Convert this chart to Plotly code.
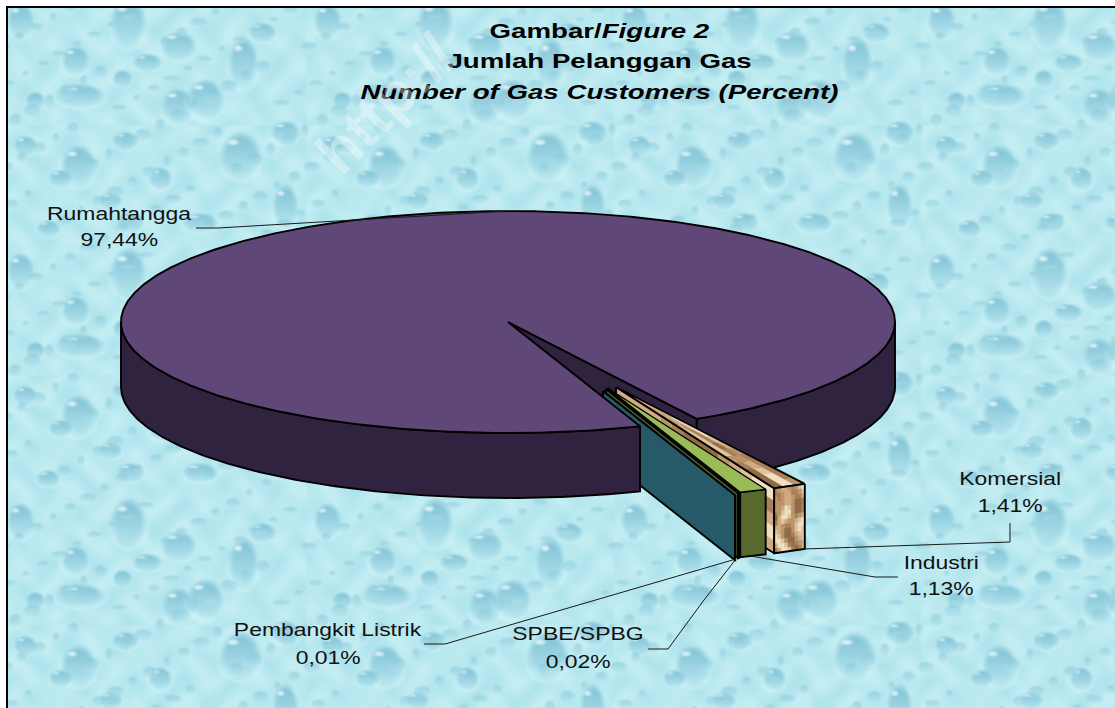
import base64, struct, zlib
import numpy as np
import plotly.graph_objects as go

# ---- data
categories = ["Komersial", "Industri", "SPBE/SPBG", "Pembangkit Listrik", "Rumahtangga"]
values = [1.41, 1.13, 0.02, 0.01, 97.44]

title_lines = ["<b>Gambar/<i>Figure 2</i></b>", "<b>Jumlah Pelanggan Gas</b>",
               "<b><i>Number of Gas Customers (Percent)</i></b>"]

# ---- pie geometry (style)
W, H = 1115, 708
CX, CY, RX, RY, DEPTH = 508, 322, 387, 111, 65
START = 150.8
PULL = [(108, 65), (99.5, 66), (98, 67), (95, 69), (0, 0)]
LW = 1.9


def texture():
    """Procedural water-drop backdrop, rendered to a PNG data URI."""
    yy, xx = np.mgrid[0:H, 0:W].astype(float)
    TX, TY = 307.0, 250.0
    u, v = xx % TX, (yy - 125) % TY
    base = (0.5 + 0.25 * np.sin(u / 7.3 + np.sin(v / 11.0) * 2) + 0.25 * np.sin(v / 6.1 + np.sin(u / 9.0) * 2))
    img = np.zeros((H, W, 3))
    light, dark = np.array([196, 238, 243.0]), np.array([176, 228, 237.0])
    for c in range(3):
        img[..., c] = dark[c] + (light[c] - dark[c]) * base
    big = [(128, 22, 18, 25), (178, 45, 18, 15), (243, 62, 15, 26), (75, 60, 14, 15), (147, 62, 15, 9),
           (80, 95, 25, 12), (178, 105, 17, 18), (205, 98, 19, 20), (122, 78, 10, 9), (20, 20, 14, 18),
           (262, 32, 14, 10), (78, 165, 18, 21), (240, 155, 21, 24), (125, 140, 14, 9), (285, 132, 15, 12),
           (25, 145, 12, 10), (60, 178, 12, 9), (160, 178, 12, 12), (48, 228, 12, 9), (200, 222, 18, 10),
           (285, 205, 13, 22), (130, 222, 14, 10), (110, 200, 12, 9), (35, 100, 10, 9)]
    golden = 0.6180339887
    small = [((i * golden) % 1 * TX, (i * 0.7548776662) % 1 * TY, 4 + (i % 5) * 1.4, 3.5 + (i % 4) * 1.2)
             for i in range(1, 90)]
    for (dx, dy, ax, ay) in big + small:
        strength = 1.0 if ax >= 10 else 0.55
        px = ((xx - dx + TX / 2) % TX) - TX / 2
        py = ((yy - dy + TY / 2) % TY) - TY / 2
        d = np.sqrt((px / ax) ** 2 + (py / ay) ** 2)
        m = np.clip((1 - d) * 3, 0, 1) * strength
        grad = np.clip(0.55 - py / (2 * ay), 0, 1)
        col = np.stack([186 - 58 * grad, 232 - 38 * grad, 240 - 26 * grad], -1)
        img = img * (1 - m[..., None]) + col * m[..., None]
        rim = np.clip(1 - np.abs(d - 1.08) * 6, 0, 1) * np.clip(py / ay + 0.3, 0, 1) * 0.45 * strength
        img = img + (np.array([214, 244, 247.0]) - img) * rim[..., None]
        hl = np.sqrt(((px + ax * .35) / (ax * .32)) ** 2 + ((py + ay * .55) / (ay * .14)) ** 2)
        hm = np.clip((1 - hl) * 2, 0, 1) * (ax > 11) * 0.75
        img = img + (np.array([238, 251, 252.0]) - img) * hm[..., None]
    # softening, like the resampled original
    for _ in range(2):
        img = (np.roll(img, 1, 0) + np.roll(img, -1, 0) + np.roll(img, 1, 1) + np.roll(img, -1, 1) + 2 * img) / 6
    k = img.clip(0, 255).astype(np.uint8)
    k[:7, :] = 255
    k[:, :6] = 255
    raw = b"".join(b"\x00" + k[r].tobytes() for r in range(H))

    def chunk(tag, data):
        return struct.pack(">I", len(data)) + tag + data + struct.pack(">I", zlib.crc32(tag + data))

    png = (b"\x89PNG\r\n\x1a\n" + chunk(b"IHDR", struct.pack(">IIBBBBB", W, H, 8, 2, 0, 0, 0))
           + chunk(b"IDAT", zlib.compress(raw, 9)) + chunk(b"IEND", b""))
    return "data:image/png;base64," + base64.b64encode(png).decode()


def ell(t, ox=0.0, oy=0.0, down=0.0, r=1.0):
    a = np.radians(t)
    return CX + ox + RX * r * np.sin(a), CY + oy + down - RY * r * np.cos(a)


def arc(t0, t1, ox=0.0, oy=0.0, down=0.0, n=None):
    n = n or max(2, int(abs(t1 - t0) * 2) + 2)
    ts = np.linspace(t0, t1, n)
    return ell(ts, ox, oy, down)


fig = go.Figure()


def poly(xs, ys, fill, lw=LW):
    fig.add_trace(go.Scatter(x=list(xs), y=list(ys), mode="lines", fill="toself", fillcolor=fill,
                             line=dict(color="#000000", width=lw), hoverinfo="skip", showlegend=False))


def outline_xy(xs, ys):
    fig.add_trace(go.Scatter(x=list(xs), y=list(ys), mode="lines", line=dict(color="#000", width=LW),
                             hoverinfo="skip", showlegend=False))


MOTTLE = ["#f0dfc2", "#e0c49d", "#cfac83", "#bb946a", "#a87f56", "#936b45"]


def mottle_color(a, b, seed):
    s = (0.5 + 0.3 * np.sin(a * 9 + seed + 1.7 * np.sin(b * 7)) + 0.2 * np.sin(b * 11 + seed * 2 + a * 5))
    return MOTTLE[min(5, max(0, int(s * 6)))]


def mottle(corner, nu, nv, seed):
    """Fill a face with small soft patches; corner(u, v) -> (x, y)."""
    groups = {}
    for a in range(nu):
        for b in range(nv):
            ua, ub, va, vb = a / nu, (a + 1) / nu, b / nv, (b + 1) / nv
            col = mottle_color(ua, va, seed)
            pts = [corner(ua, va), corner(ub, va), corner(ub, vb), corner(ua, vb)]
            groups.setdefault(col, []).append(pts)
    for col, items in groups.items():
        xs, ys = [], []
        for pts in items:
            xs += [float(p[0]) for p in pts] + [None]
            ys += [float(p[1]) for p in pts] + [None]
        fig.add_trace(go.Scatter(x=xs, y=ys, mode="lines", fill="toself", fillcolor=col,
                                 line=dict(color=col, width=0.6), hoverinfo="skip", showlegend=False))


total = sum(values)
spans = [v / total * 360 for v in values]
edges = [START]
for s in spans:
    edges.append(edges[-1] + s)

main_t0, main_t1 = edges[4], edges[5]
gap_t0, gap_t1 = edges[0], edges[4]

# main slice: cut wall and the right part of the rim lie behind the pulled slices
x1, y1 = ell(gap_t0)
poly([CX, x1, x1, CX, CX], [CY, y1, y1 + DEPTH, CY + DEPTH, CY], "#30233f")
ax, ay = arc(90, gap_t0)
bx, by = arc(gap_t0, 90, down=DEPTH)
poly(list(ax) + list(bx) + [ax[0]], list(ay) + list(by) + [ay[0]], "#30233f")

# pulled slices
styles = [
    ("#d4b088", "#b68f66", "#c9a57b"),
    ("#9bbb59", "#58692e", "#58692e"),
    ("#7f9a45", "#4a5a28", "#4a5a28"),
    ("#2f6a7b", "#265a69", "#265a69"),
]
for i in range(4):
    t0, t1 = edges[i], edges[i + 1]
    ox, oy = PULL[i]
    top_c, rim_c, side_c = styles[i]
    apx, apy = CX + ox, CY + oy
    ex, ey = ell(t1, ox, oy)
    sx, sy = ell(t0, ox, oy)
    if i == 0:
        # side wall
        mottle(lambda u, v: (apx + (ex - apx) * u, apy + (ey - apy) * u + DEPTH * v), 14, 5, 3.1)
        outline_xy([apx, ex, ex, apx, apx], [apy, ey, ey + DEPTH, apy + DEPTH, apy])
        # top face: streaks along the slice, lighter toward the point
        mottle(lambda u, v: ell(t0 + (t1 - t0) * v, ox, oy, r=max(u, 1e-3)), 16, 3, 1.3)
        outline_xy([apx, sx, ex, apx], [apy, sy, ey, apy])
        # outer face
        mottle(lambda u, v: ell(t0 + (t1 - t0) * u, ox, oy, DEPTH * v), 9, 14, 5.2)
        rx0, ry0 = arc(t0, t1, ox, oy)
        rx1, ry1 = arc(t1, t0, ox, oy, DEPTH)
        outline_xy(list(rx0) + list(rx1) + [rx0[0]], list(ry0) + list(ry1) + [ry0[0]])
    else:
        poly([apx, ex, ex, apx, apx], [apy, ey, ey + DEPTH, apy + DEPTH, apy], side_c)
        rx0, ry0 = arc(t0, t1, ox, oy)
        rx1, ry1 = arc(t1, t0, ox, oy, DEPTH)
        poly(list(rx0) + list(rx1) + [rx0[0]], list(ry0) + list(ry1) + [ry0[0]], rim_c)
        tx, ty = arc(t0, t1, ox, oy)
        poly([apx] + list(tx) + [apx], [apy] + list(ty) + [apy], top_c, lw=1.4)

# left part of the rim and the top face of the main slice
ax, ay = arc(gap_t1, 270)
bx, by = arc(270, gap_t1, down=DEPTH)
poly(list(ax) + list(bx) + [ax[0]], list(ay) + list(by) + [ay[0]], "#30233f")
tx, ty = arc(main_t0, main_t1)
poly([CX] + list(tx) + [CX], [CY] + list(ty) + [CY], "#5f4777")

# ---- labels
LABELS = {
    "Komersial": (1010, 478, 505),
    "Industri": (941, 562, 588),
    "SPBE/SPBG": (578, 633, 661),
    "Pembangkit Listrik": (328, 629, 657),
    "Rumahtangga": (119, 213, 239),
}
LEADERS = {
    "Komersial": [(1010, 523), (1010, 542), (803, 549)],
    "Industri": [(898, 577), (875, 577), (750, 556)],
    "SPBE/SPBG": [(648, 649), (668, 649), (704, 600), (736, 559)],
    "Pembangkit Listrik": [(424, 644), (445, 644), (736, 559)],
    "Rumahtangga": [(196, 228), (218, 228), (508, 211)],
}
ann = []
for name, val in zip(categories, values):
    lx, ly1, ly2 = LABELS[name]
    ann.append(dict(x=lx, y=ly1, text=name, showarrow=False, xanchor="center", yanchor="middle",
                    font=dict(family="Liberation Sans", size=18.5, color="#111")))
    ann.append(dict(x=lx, y=ly2, text=f"{val:.2f}".replace(".", ",") + "%", showarrow=False, xanchor="center",
                    yanchor="middle", font=dict(family="Liberation Sans", size=18.5, color="#111")))
    pts = LEADERS[name]
    fig.add_trace(go.Scatter(x=[p[0] for p in pts], y=[p[1] for p in pts], mode="lines",
                             line=dict(color="#1a1a1a", width=1), hoverinfo="skip", showlegend=False))
for yy, text in zip((30, 60, 91), title_lines):
    ann.append(dict(x=599, y=yy, text=text, showarrow=False, xanchor="center", yanchor="middle",
                    font=dict(family="Liberation Sans", size=21, color="#000")))
ann.append(dict(x=385, y=104, text="<b>http://</b>", showarrow=False, textangle=-45, xanchor="center",
                yanchor="middle", font=dict(family="Liberation Sans", size=60, color="rgba(255,255,255,0.36)")))

shapes = [
    dict(type="line", x0=6, x1=W, y0=7, y1=7, line=dict(color="#000", width=2)),
    dict(type="line", x0=7, x1=7, y0=7, y1=H, line=dict(color="#000", width=2)),
]

fig.update_layout(
    width=W, height=H, margin=dict(l=0, r=0, t=0, b=0), paper_bgcolor="#ffffff", plot_bgcolor="#ffffff",
    xaxis=dict(range=[0, W], visible=False, fixedrange=True),
    yaxis=dict(range=[H, 0], visible=False, fixedrange=True),
    showlegend=False, annotations=ann, shapes=shapes,
    images=[dict(source=texture(), xref="x", yref="y", x=0, y=0, sizex=W, sizey=H, sizing="stretch",
                 layer="below", xanchor="left", yanchor="top")],
)
# the reference's type is horizontally stretched: widen the horizontal labels in place
widen = """
document.body.style.margin='0';document.body.style.overflow='hidden';
document.querySelectorAll('text.annotation-text').forEach(function(t){
  var s=t.textContent||''; if(s==='http://') return;
  var k=parseFloat(t.style.fontSize)>20?1.317:1.24;
  t.style.transformBox='fill-box';t.style.transformOrigin='center';t.style.transform='scaleX('+k+')';
});
"""
fig.write_html("out.html", config={"displayModeBar": False}, post_script=widen)
